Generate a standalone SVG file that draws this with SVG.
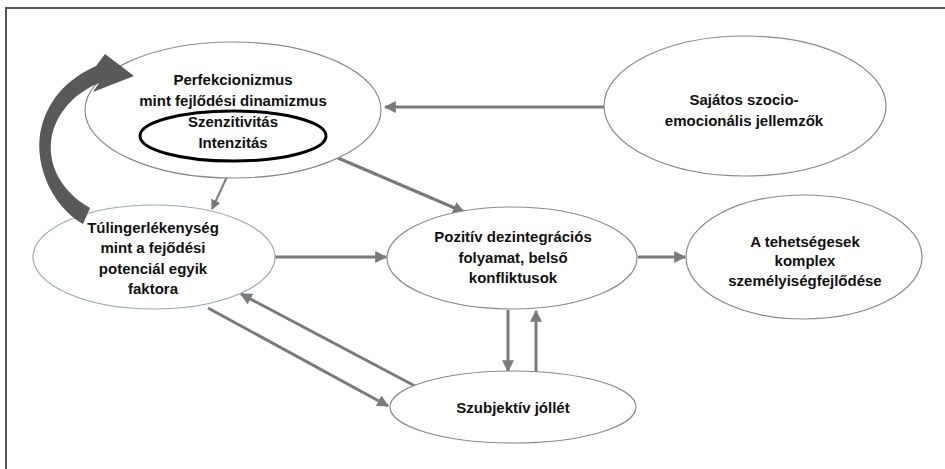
<svg xmlns="http://www.w3.org/2000/svg" width="945" height="469" viewBox="0 0 945 469">
<defs>
<style>
.node{fill:#fff;stroke:#8a8a8a;stroke-width:1.2}
.lbl{font-family:"Liberation Sans",Arial,sans-serif;font-weight:bold;font-size:15px;fill:#111;text-anchor:middle}
.conn{stroke:#7a7a7a;stroke-width:3;fill:none}
.thin{stroke:#7a7a7a;stroke-width:2;fill:none}
</style>
<marker id="ah" viewBox="0 0 10 10" refX="9" refY="5" markerWidth="4" markerHeight="4" orient="auto" markerUnits="strokeWidth">
<path d="M0,0 L10,5 L0,10 Z" fill="#7a7a7a"/>
</marker>
<marker id="ah2" viewBox="0 0 10 10" refX="9" refY="5" markerWidth="5" markerHeight="5" orient="auto" markerUnits="strokeWidth">
<path d="M0,0 L10,5 L0,10 Z" fill="#7a7a7a"/>
</marker>
</defs>
<rect width="945" height="469" fill="#fff"/>
<path d="M6,469 V8 H945" fill="none" stroke="#555" stroke-width="2"/>

<g id="connectors">
<line class="conn" x1="604" y1="107" x2="385" y2="107" marker-end="url(#ah)"/>
<line class="thin" x1="233" y1="164" x2="212" y2="209" marker-end="url(#ah2)"/>
<line class="conn" x1="338" y1="158" x2="464" y2="212" marker-end="url(#ah)"/>
<line class="conn" x1="274" y1="257" x2="386" y2="257" marker-end="url(#ah)"/>
<line class="conn" x1="638" y1="257" x2="685" y2="257" marker-end="url(#ah)"/>
<line class="conn" x1="508" y1="310" x2="508" y2="371" marker-end="url(#ah)"/>
<line class="conn" x1="536" y1="373" x2="536" y2="311" marker-end="url(#ah)"/>
<line class="conn" x1="208" y1="308" x2="388" y2="406" marker-end="url(#ah)"/>
<line class="conn" x1="415" y1="386" x2="241" y2="294" marker-end="url(#ah)"/>
</g>

<g id="perfekcionizmus">
<ellipse class="node" cx="233" cy="110" rx="148" ry="68"/>
<ellipse cx="233" cy="136" rx="93" ry="25" fill="none" stroke="#000" stroke-width="3"/>
<text class="lbl" x="233" y="85">Perfekcionizmus</text>
<text class="lbl" x="233" y="106">mint fejlődési dinamizmus</text>
<text class="lbl" x="233" y="127">Szenzitivitás</text>
<text class="lbl" x="233" y="148">Intenzitás</text>
</g>

<g id="sajatos">
<ellipse class="node" cx="745" cy="106" rx="141" ry="70"/>
<text class="lbl" x="744" y="105">Sajátos szocio-</text>
<text class="lbl" x="744" y="126">emocionális jellemzők</text>
</g>

<g id="tulingerlekenyseg">
<ellipse class="node" cx="154" cy="257" rx="121" ry="52" style="stroke:#9aaabb"/>
<text class="lbl" x="153" y="233">Túlingerlékenység</text>
<text class="lbl" x="153" y="253">mint a fejődési</text>
<text class="lbl" x="153" y="274">potenciál egyik</text>
<text class="lbl" x="153" y="294">faktora</text>
</g>

<g id="pozitiv">
<ellipse class="node" cx="512" cy="258" rx="125" ry="51"/>
<text class="lbl" x="513" y="242">Pozitív dezintegrációs</text>
<text class="lbl" x="513" y="263">folyamat, belső</text>
<text class="lbl" x="513" y="283">konfliktusok</text>
</g>

<g id="tehetsegesek">
<ellipse class="node" cx="804" cy="257" rx="118" ry="62"/>
<text class="lbl" x="805" y="247">A tehetségesek</text>
<text class="lbl" x="805" y="266">komplex</text>
<text class="lbl" x="805" y="286">személyiségfejlődése</text>
</g>

<g id="szubjektiv">
<ellipse class="node" cx="513" cy="407" rx="123" ry="36"/>
<text class="lbl" x="513" y="413">Szubjektív jóllét</text>
</g>

<g id="curved-arrow">
<path d="M90,208 L83,224 C50,205 32,160 42,125 C51,95 70,78 96,66 L105,54 L134,76 L93,92 L99,83 C77,92 58,110 52,135 C46,165 62,192 90,208 Z" fill="#595959"/>
</g>
</svg>
